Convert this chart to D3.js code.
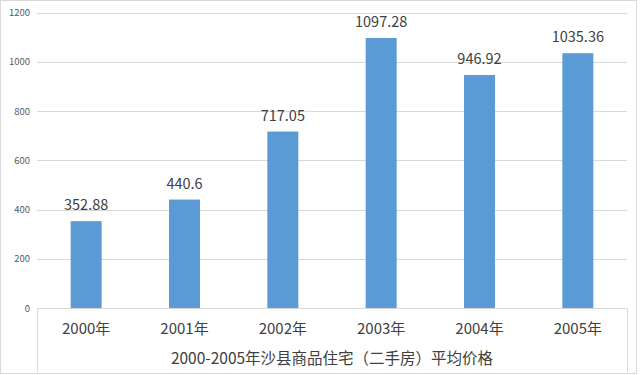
<!DOCTYPE html>
<html><head><meta charset="utf-8">
<script src="https://cdn.jsdelivr.net/npm/d3@7"></script>
<style>body{margin:0;background:#fff}svg{display:block}</style>
</head><body>
<script>
const categories = ["2000年","2001年","2002年","2003年","2004年","2005年"];
const values = [352.88, 440.6, 717.05, 1097.28, 946.92, 1035.36];
const yTicks = [0,200,400,600,800,1000,1200];
const title = "2000-2005年沙县商品住宅（二手房）平均价格";

(function(){
const W=640,H=375;
const pLeft=37,pRight=627,pTop=12.7,zeroY=308;
const svg=d3.select("body").append("svg").attr("width",W).attr("height",H);
svg.append("rect").attr("x",0.5).attr("y",0.5).attr("width",636).attr("height",373)
  .attr("fill","#fff").attr("stroke","#d9d9d9");

const x=d3.scaleBand().domain(categories).range([pLeft,pRight]).paddingInner(0.685).paddingOuter(0.3425);
const y=d3.scaleLinear().domain([0,1200]).range([zeroY,pTop]);
const font="'Noto Sans CJK SC','Open Sans',sans-serif";

svg.append("g").selectAll("line").data(yTicks.filter(d=>d>0)).join("line")
  .attr("x1",pLeft).attr("x2",pRight).attr("y1",d=>Math.round(y(d))+0.5).attr("y2",d=>Math.round(y(d))+0.5)
  .attr("stroke","#d9d9d9").attr("stroke-width",1);

const ya=svg.append("g").attr("transform",`translate(${pLeft-7},0)`)
  .call(d3.axisLeft(y).tickValues(yTicks).tickFormat(d3.format("d")).tickSize(0).tickPadding(0));
ya.select(".domain").remove();
ya.selectAll("text").attr("font-family",font).attr("font-size",9.5).attr("fill","#595959");

svg.append("g").selectAll("rect").data(values).join("rect")
  .attr("x",(d,i)=>x(categories[i])).attr("width",x.bandwidth())
  .attr("y",d=>y(d)).attr("height",d=>zeroY-y(d)).attr("fill","#5B9BD5");

svg.append("g").selectAll("text").data(values).join("text")
  .attr("x",(d,i)=>x(categories[i])+x.bandwidth()/2).attr("y",d=>y(d)-11)
  .attr("text-anchor","middle").attr("font-family",font).attr("font-size",14.5).attr("fill","#404040")
  .text(d=>d);

const boxBottom=372;
svg.append("path").attr("d",`M${pLeft+0.5},${boxBottom}V${zeroY+0.5}H${pRight+0.5}V${boxBottom}`)
  .attr("fill","none").attr("stroke","#d9d9d9");
const xa=svg.append("g").attr("transform",`translate(0,${zeroY})`).call(d3.axisBottom(x).tickSize(0).tickPadding(0));
xa.select(".domain").remove();
xa.selectAll("text").attr("dy",0).attr("y",26).attr("font-family",font).attr("font-size",15).attr("fill","#404040");

svg.append("text").attr("x",(pLeft+pRight)/2).attr("y",364).attr("text-anchor","middle")
  .attr("font-family",font).attr("font-size",15.5).attr("fill","#404040").text(title);
})();
</script>
</body></html>
